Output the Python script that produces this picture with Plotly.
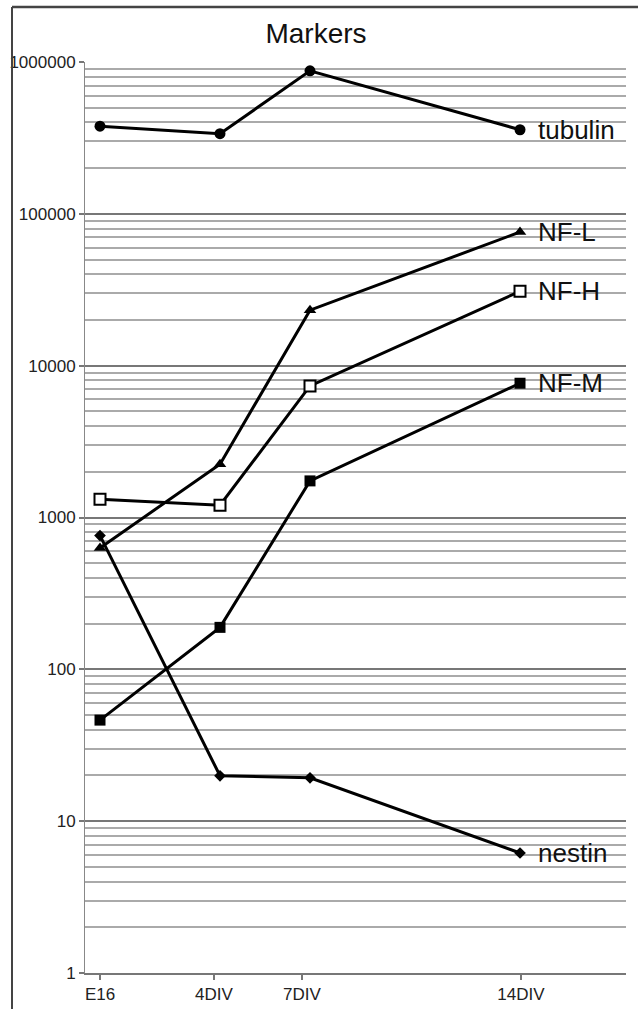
import math
import plotly.graph_objects as go

# ---- data ----
categories = ["E16", "4DIV", "7DIV", "14DIV"]
days = [0, 4, 7, 14]
tubulin = [378000, 337000, 875000, 358000]
nf_l = [630, 2245, 23200, 75900]
nf_h = [1320, 1205, 7350, 30900]
nf_m = [46.3, 189, 1742, 7660]
nestin = [760, 19.9, 19.3, 6.17]

y_ticks = [1, 10, 100, 1000, 10000, 100000, 1000000]
y_ticktext = ["1", "10", "100", "1000", "10000", "100000", "1000000"]

series = [
    ("tubulin", tubulin, dict(symbol="circle", size=11, color="black")),
    ("NF-L", nf_l, dict(symbol="triangle-up", size=11, color="black")),
    ("NF-H", nf_h, dict(symbol="square", size=11, color="white",
                        line=dict(color="black", width=2))),
    ("NF-M", nf_m, dict(symbol="square", size=11, color="black")),
    ("nestin", nestin, dict(symbol="diamond", size=9, color="black")),
]

FONT = "Liberation Sans, Arial, Helvetica, sans-serif"
W, H = 638, 1009
ML, MR, MT, MB = 85, 12, 62, 36
PW, PH = W - ML - MR, H - MT - MB

fig = go.Figure()
for name, vals, mk in series:
    fig.add_trace(go.Scatter(
        x=days, y=vals, mode="lines+markers", name=name,
        line=dict(color="black", width=3),
        marker=mk, showlegend=False, cliponaxis=False,
    ))

for name, vals, mk in series:
    fig.add_annotation(
        x=days[-1], y=math.log10(vals[-1]), xref="x", yref="y",
        text=name, showarrow=False, xanchor="left", yanchor="middle",
        xshift=16, font=dict(family=FONT, size=26, color="#111"),
    )

minor_vals = [m * 10 ** e for e in range(0, 6) for m in range(2, 10)]

fig.update_layout(
    width=W, height=H,
    margin=dict(l=ML, r=MR, t=MT, b=MB, autoexpand=False),
    paper_bgcolor="white", plot_bgcolor="white",
    font=dict(family=FONT, color="#222"),
    title=dict(text="Markers", x=316 / W, xanchor="center",
               y=1 - 33 / H, yanchor="middle",
               font=dict(family=FONT, size=28, color="#111")),
    xaxis=dict(
        range=[-0.5, 17.533], automargin=False,
        tickvals=[0, 3.8, 6.73, 14.03], ticktext=categories,
        showgrid=False, zeroline=False,
        showline=True, linecolor="#777", linewidth=1.5,
        ticks="outside", ticklen=5, tickcolor="#777", tickwidth=1.5,
        tickfont=dict(family=FONT, size=17, color="#222"),
    ),
    yaxis=dict(
        type="log", range=[0, 6], automargin=False,
        tickvals=y_ticks, ticktext=y_ticktext,
        showgrid=True, gridcolor="#777", gridwidth=1.5,
        showline=True, linecolor="#888", linewidth=1,
        ticks="outside", ticklen=5, tickcolor="#777", tickwidth=1.5,
        tickfont=dict(family=FONT, size=17, color="#222"),
        zeroline=False,
        minor=dict(tickvals=minor_vals, showgrid=True, gridcolor="#aaa",
                   gridwidth=1.5, ticks=""),
    ),
)

# outer frame (left and top edges visible; right/bottom run off the page)
fx = (12 - ML) / PW
fy = 1 + (MT - 7) / PH
fb = -(MB + 10) / PH
fr = 1 + (MR + 10) / PW
fig.add_shape(type="line", xref="paper", yref="paper", x0=fx, x1=fr, y0=fy, y1=fy,
              line=dict(color="#444", width=2.5), layer="above")
fig.add_shape(type="line", xref="paper", yref="paper", x0=fx, x1=fx, y0=fb, y1=fy,
              line=dict(color="#444", width=2), layer="above")

fig.write_html(
    "out.html",
    config={"displayModeBar": False},
    post_script="document.body.style.margin='0';document.body.style.overflow='hidden';",
)
